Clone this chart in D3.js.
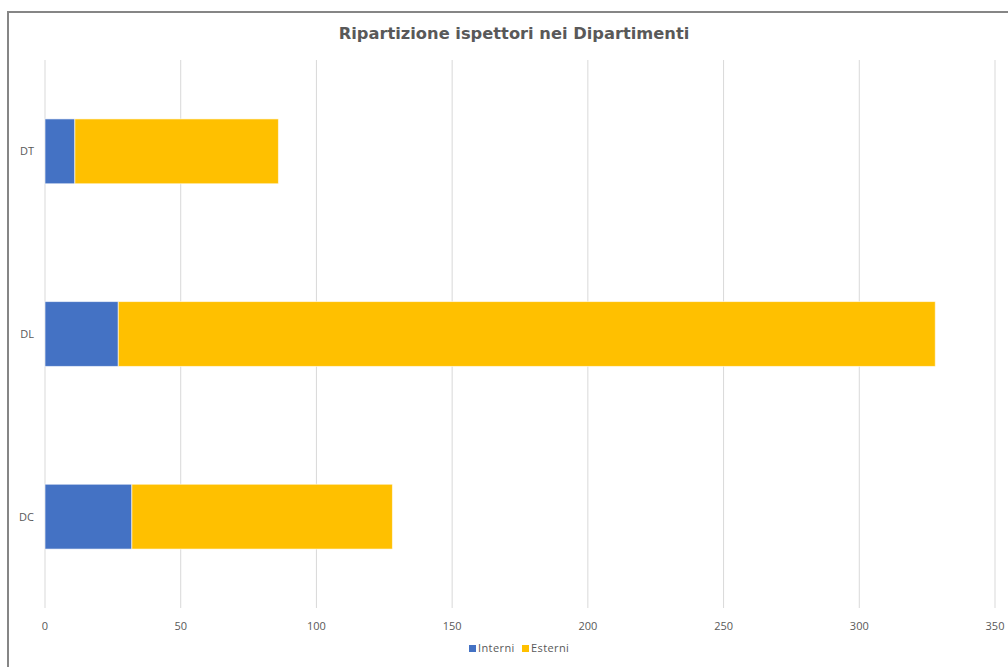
<!DOCTYPE html>
<html>
<head>
<meta charset="utf-8">
<script src="https://cdn.jsdelivr.net/npm/d3@7"></script>
<style>
  html, body { margin: 0; padding: 0; background: #fff; overflow: hidden; }
</style>
</head>
<body>
<div id="chart"></div>
<script>
// data
var categories = ["DT", "DL", "DC"];
var interni = [11, 27, 32];
var esterni = [75, 301, 96];
var seriesNames = ["Interni", "Esterni"];
var seriesColors = ["#4472C4", "#FFC000"];
var xTicks = [0, 50, 100, 150, 200, 250, 300, 350];

var width = 1008, height = 667;
var margin = {top: 60, right: 13, bottom: 59, left: 45};

var svg = d3.select("#chart")
    .append("svg")
    .attr("width", width)
    .attr("height", height);

// chart frame (extends past the window on right and bottom)
svg.append("rect")
    .attr("x", 8).attr("y", 12)
    .attr("width", 1030).attr("height", 700)
    .style("fill", "#fff")
    .style("stroke", "#868686")
    .style("stroke-width", 2);

svg.append("text")
    .attr("x", 514)
    .attr("y", 39)
    .attr("text-anchor", "middle")
    .style("font-family", "'DejaVu Sans', Verdana, sans-serif")
    .style("font-weight", "bold")
    .style("font-size", "16.3px")
    .style("fill", "#595959")
    .text("Ripartizione ispettori nei Dipartimenti");

var x = d3.scaleLinear()
    .domain([0, 350])
    .range([margin.left, width - margin.right]);

var y = d3.scaleBand()
    .domain(categories)
    .range([margin.top, height - margin.bottom])
    .paddingInner(0.645)
    .paddingOuter(0.3225);

// gridlines
svg.append("g")
    .selectAll("line")
    .data(xTicks)
    .enter().append("line")
    .attr("x1", d => x(d)).attr("x2", d => x(d))
    .attr("y1", margin.top).attr("y2", height - margin.bottom)
    .style("stroke", "#d9d9d9")
    .style("stroke-width", 1);

// x tick labels
svg.append("g")
    .selectAll("text")
    .data(xTicks)
    .enter().append("text")
    .attr("x", d => x(d))
    .attr("y", 630)
    .attr("text-anchor", "middle")
    .style("font-family", "'Open Sans', 'Liberation Sans', sans-serif")
    .style("font-size", "11px")
    .style("fill", "#595959")
    .text(d => d);

// category labels
svg.append("g")
    .selectAll("text")
    .data(categories)
    .enter().append("text")
    .attr("x", 34)
    .attr("y", d => y(d) + y.bandwidth() / 2 + 4)
    .attr("text-anchor", "end")
    .style("font-family", "'Open Sans', 'Liberation Sans', sans-serif")
    .style("font-size", "11px")
    .style("fill", "#595959")
    .text(d => d);

// stacked bars
var rows = categories.map((c, i) => ({cat: c, Interni: interni[i], Esterni: esterni[i]}));
var stack = d3.stack().keys(seriesNames)(rows);

svg.append("g")
    .selectAll("g")
    .data(stack)
    .enter().append("g")
    .style("fill", (d, i) => seriesColors[i])
    .selectAll("rect")
    .data(d => d)
    .enter().append("rect")
    .attr("x", d => x(d[0]))
    .attr("y", d => y(d.data.cat))
    .attr("width", d => x(d[1]) - x(d[0]))
    .attr("height", y.bandwidth())
    .style("stroke", "#fff")
    .style("stroke-opacity", 0.6)
    .style("stroke-width", 1);

// legend
var legend = svg.append("g").attr("transform", "translate(469,652)");
var legendX = [0, 53];
seriesNames.forEach(function(name, i){
    legend.append("rect")
        .attr("x", legendX[i]).attr("y", -7)
        .attr("width", 7).attr("height", 7)
        .style("fill", seriesColors[i]);
    legend.append("text")
        .attr("x", legendX[i] + 9)
        .attr("y", 0)
        .style("font-family", "'Open Sans', 'Liberation Sans', sans-serif")
        .style("font-size", "11px")
        .style("letter-spacing", "0.4px")
        .style("fill", "#595959")
        .text(name);
});
</script>
</body>
</html>
